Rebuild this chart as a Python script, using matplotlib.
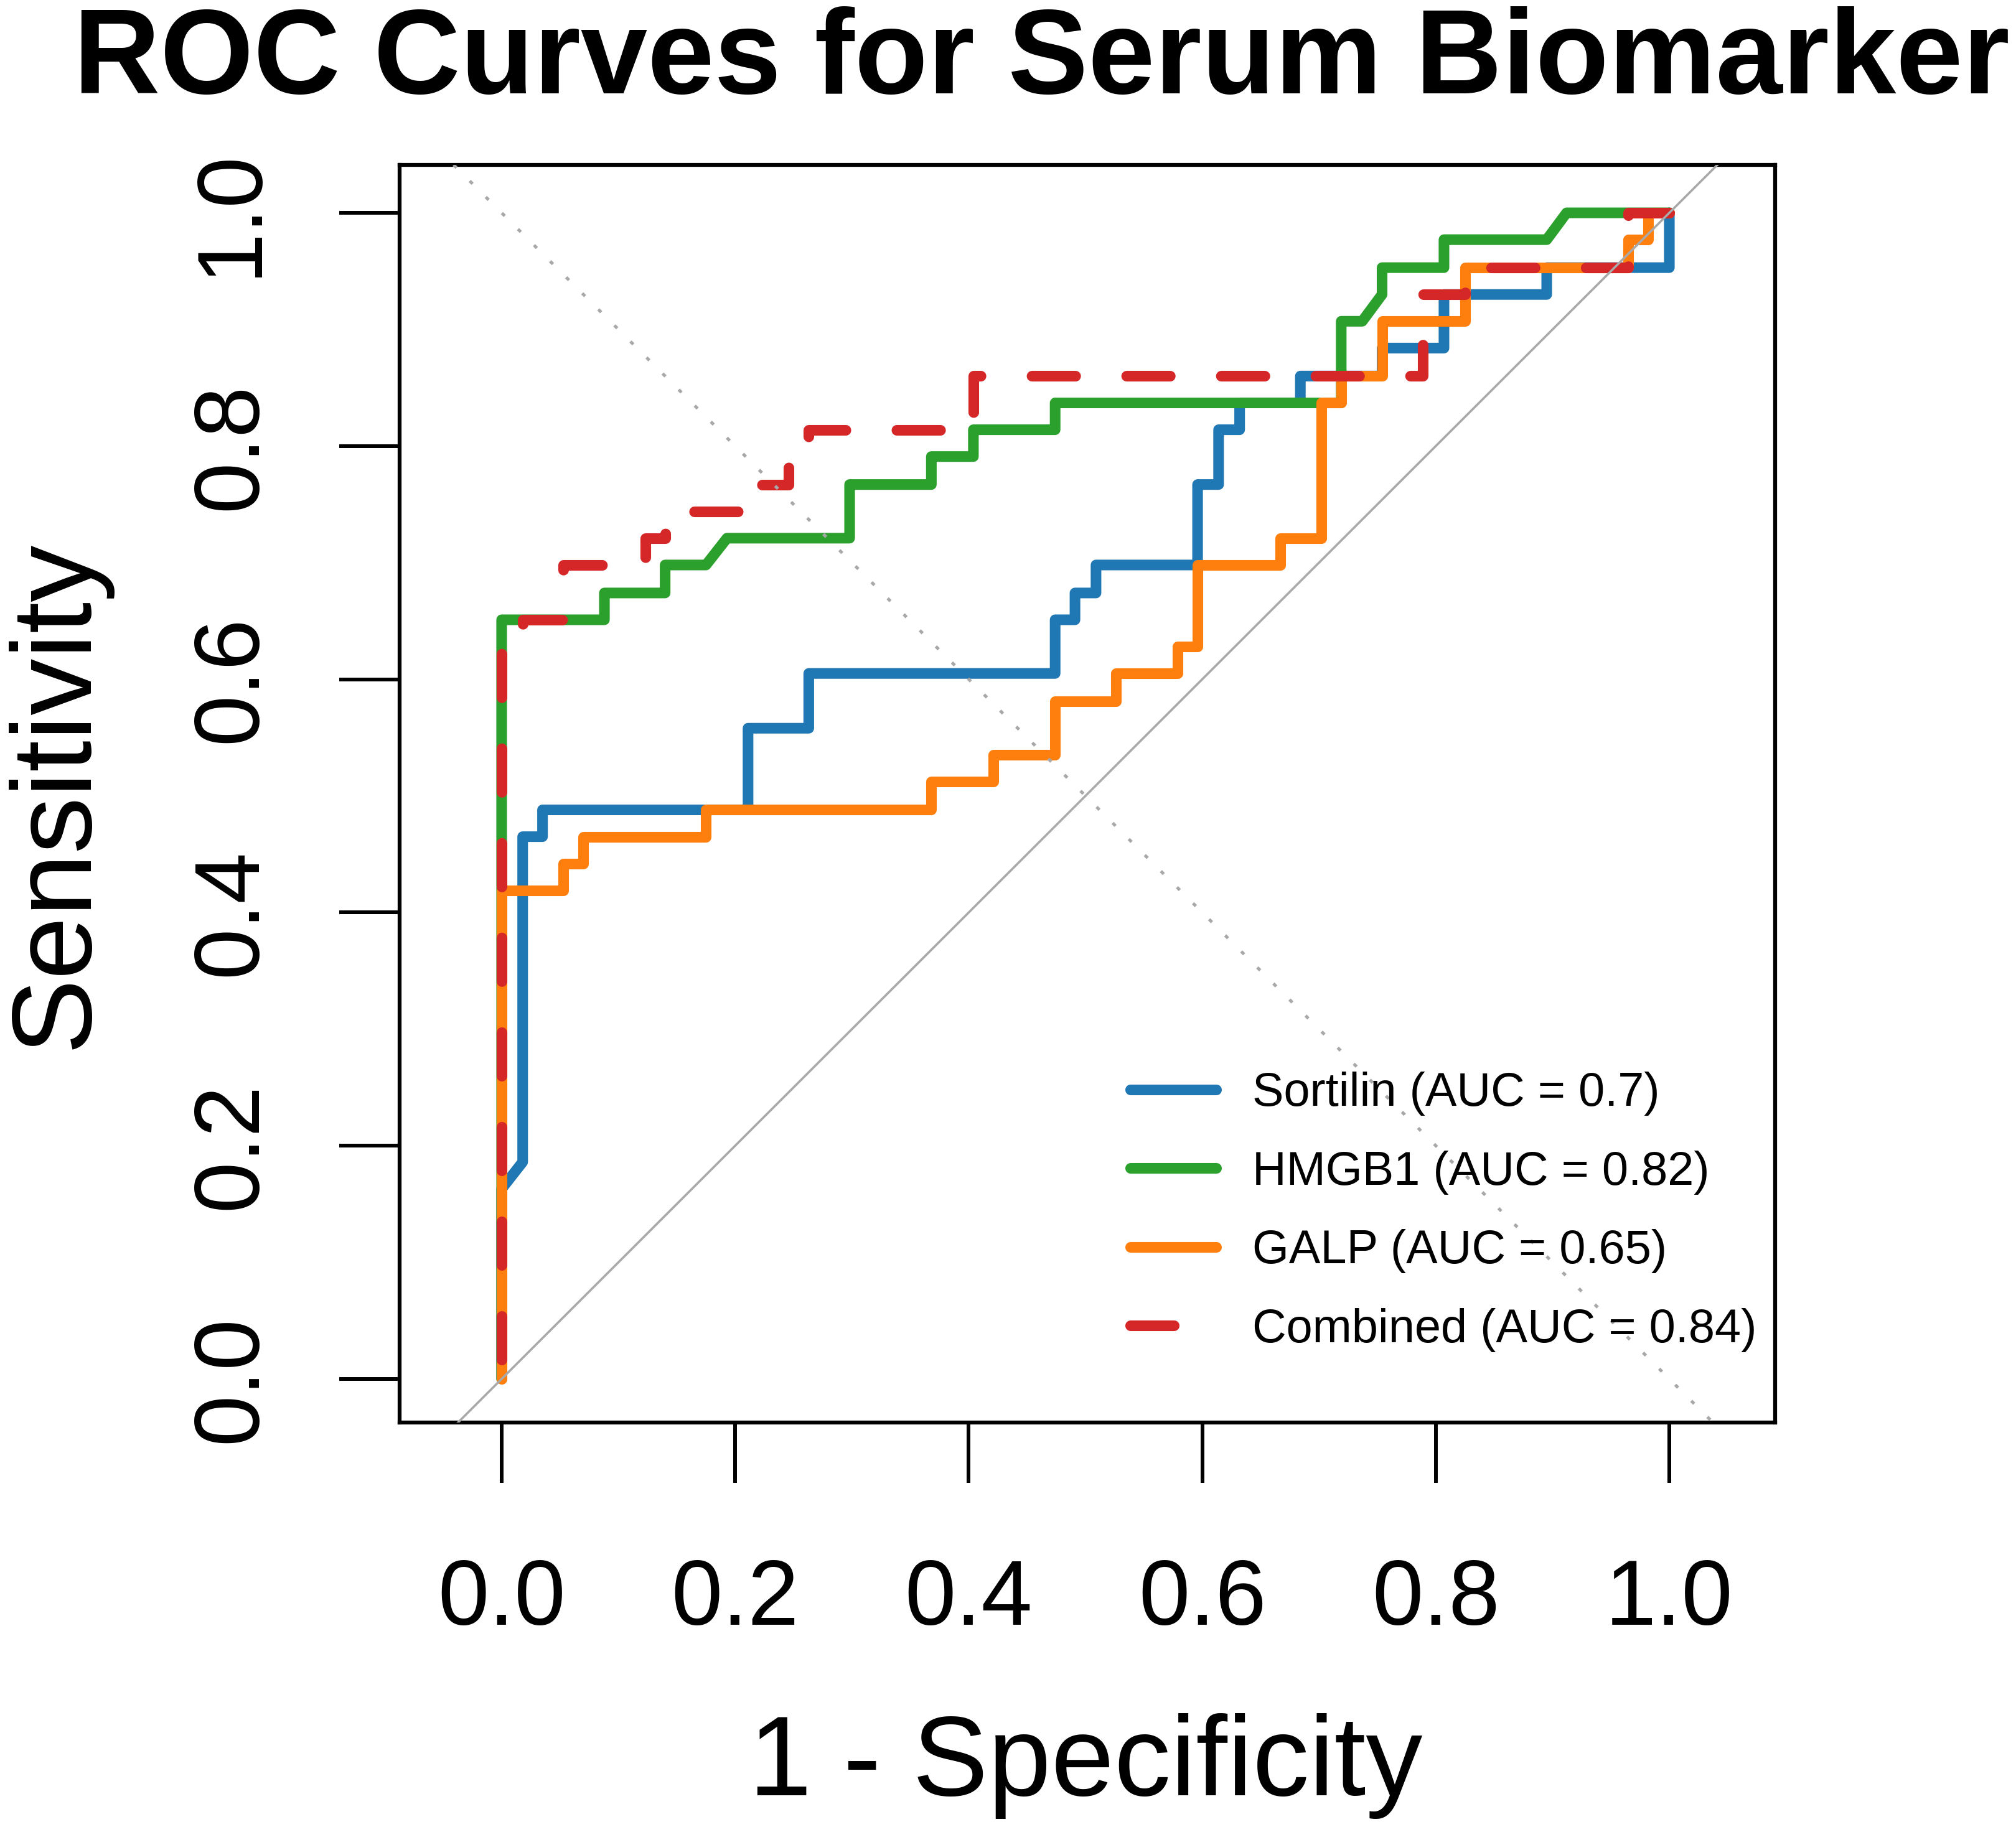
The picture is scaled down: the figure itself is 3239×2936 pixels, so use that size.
import numpy as np
import matplotlib
matplotlib.use("Agg")
import matplotlib.pyplot as plt

plt.rcParams['font.family'] = ['Liberation Sans', 'DejaVu Sans']

# ---------------- data ----------------
series_names = ["Sortilin", "HMGB1", "GALP", "Combined"]
auc_values = [0.7, 0.82, 0.65, 0.84]
series_colors = ["#1f77b4", "#2ca02c", "#ff7f0e", "#d62728"]

sortilin_fpr = [0, 0, 0.018, 0.018, 0.035, 0.035, 0.211, 0.211, 0.263, 0.263,
                0.474, 0.474, 0.491, 0.491, 0.509, 0.509, 0.596, 0.596, 0.614, 0.614,
                0.632, 0.632, 0.684, 0.684, 0.754, 0.754, 0.807, 0.807, 0.895, 0.895,
                1.0, 1.0]
sortilin_tpr = [0, 0.163, 0.186, 0.465, 0.465, 0.488, 0.488, 0.558, 0.558, 0.605,
                0.605, 0.651, 0.651, 0.674, 0.674, 0.698, 0.698, 0.767, 0.767, 0.814,
                0.814, 0.837, 0.837, 0.860, 0.860, 0.884, 0.884, 0.930, 0.930, 0.953,
                0.953, 1.0]

hmgb1_fpr = [0, 0, 0.088, 0.088, 0.140, 0.140, 0.175, 0.193, 0.298, 0.298,
             0.368, 0.368, 0.404, 0.404, 0.474, 0.474, 0.719, 0.719, 0.737, 0.754,
             0.754, 0.807, 0.807, 0.895, 0.912, 1.0]
hmgb1_tpr = [0, 0.651, 0.651, 0.674, 0.674, 0.698, 0.698, 0.721, 0.721, 0.767,
             0.767, 0.791, 0.791, 0.814, 0.814, 0.837, 0.837, 0.907, 0.907, 0.930,
             0.953, 0.953, 0.977, 0.977, 1.0, 1.0]

galp_fpr = [0, 0, 0.053, 0.053, 0.070, 0.070, 0.175, 0.175, 0.368, 0.368,
            0.421, 0.421, 0.474, 0.474, 0.526, 0.526, 0.579, 0.579, 0.596, 0.596,
            0.667, 0.667, 0.702, 0.702, 0.719, 0.719, 0.754, 0.754, 0.825, 0.825,
            0.965, 0.965, 0.982, 0.982, 1.0]
galp_tpr = [0, 0.419, 0.419, 0.442, 0.442, 0.465, 0.465, 0.488, 0.488, 0.512,
            0.512, 0.535, 0.535, 0.581, 0.581, 0.605, 0.605, 0.628, 0.628, 0.698,
            0.698, 0.721, 0.721, 0.837, 0.837, 0.860, 0.860, 0.907, 0.907, 0.953,
            0.953, 0.977, 0.977, 1.0, 1.0]

combined_fpr = [0, 0, 0.018, 0.018, 0.053, 0.053, 0.123, 0.123, 0.140, 0.140,
                0.211, 0.211, 0.246, 0.246, 0.263, 0.263, 0.404, 0.404, 0.789, 0.789,
                0.825, 0.825, 0.965, 0.965, 1.0]
combined_tpr = [0, 0.628, 0.628, 0.651, 0.651, 0.698, 0.698, 0.721, 0.721, 0.744,
                0.744, 0.767, 0.767, 0.791, 0.791, 0.814, 0.814, 0.860, 0.860, 0.930,
                0.930, 0.953, 0.953, 1.0, 1.0]

x_ticks = [0.0, 0.2, 0.4, 0.6, 0.8, 1.0]
y_ticks = [0.0, 0.2, 0.4, 0.6, 0.8, 1.0]
tick_labels = ["0.0", "0.2", "0.4", "0.6", "0.8", "1.0"]

title_text = "ROC Curves for Serum Biomarker"
xlabel_text = "1 - Specificity"
ylabel_text = "Sensitivity"

# ---------------- figure ----------------
W, H = 3239, 2936
fig = plt.figure(figsize=(W / 100, H / 100), dpi=100)
ax = fig.add_axes([642 / W, 1 - 2286 / H, (2852 - 642) / W, (2286 - 265) / H])
ax.set_xlim(-0.0874, 1.0906)
ax.set_ylim(-0.0374, 1.0411)

lw = 12.3
curves = [(sortilin_fpr, sortilin_tpr), (hmgb1_fpr, hmgb1_tpr),
          (galp_fpr, galp_tpr), (combined_fpr, combined_tpr)]
handles = []
for i, ((fx, ty), col) in enumerate(zip(curves, series_colors)):
    fx = np.asarray(fx)[::-1]
    ty = np.asarray(ty)[::-1]
    if series_names[i] == "Combined":
        ln, = ax.plot(fx, ty, color=col, lw=lw, linestyle=(0, (4.1, 4.8)),
                      dash_capstyle='round', dash_joinstyle='round', zorder=2 + i)
    else:
        ln, = ax.plot(fx, ty, color=col, lw=lw, solid_capstyle='round',
                      solid_joinstyle='round', zorder=2 + i)
    handles.append(ln)

# reference diagonals
ax.axline((0, 0), (1, 1), color='#a9a9a9', lw=2.6, zorder=7)
ax.axline((0, 1), (1, 0), color='#a8a8a8', lw=3.6, linestyle=(0, (1.3, 6.0)),
          dash_capstyle='butt', zorder=7)

for sp in ax.spines.values():
    sp.set_linewidth(4.5)
    sp.set_color('black')

ax.set_xticks(x_ticks)
ax.set_xticklabels(tick_labels)
ax.set_yticks(y_ticks)
ax.set_yticklabels(tick_labels, rotation=90, va='center')
ax.tick_params(axis='both', direction='out', length=70, width=4.3,
               labelsize=106.5, color='black')
ax.tick_params(axis='x', pad=86)
ax.tick_params(axis='y', pad=74)

labels = [f"{n} (AUC = {a})" for n, a in zip(series_names, auc_values)]
leg = ax.legend(handles, labels, loc='upper left',
                bbox_to_anchor=(1816.5 / W, 1 - 1722 / H),
                bbox_transform=fig.transFigure, frameon=False, fontsize=54.5,
                handlelength=1.81, handletextpad=0.77, labelspacing=0.735,
                borderpad=0, borderaxespad=0)
leg.set_zorder(8)

fig.text(118 / W, 1 - 150 / H, title_text, fontsize=139, fontweight='bold',
         ha='left', va='baseline')
fig.text(1744 / W, 1 - 2885 / H, xlabel_text, fontsize=131, ha='center',
         va='baseline')
fig.text(92 / W, 1 - 1276 / H, ylabel_text, fontsize=131, rotation=90,
         ha='center', va='center')

fig.savefig('out.png', dpi=100)
